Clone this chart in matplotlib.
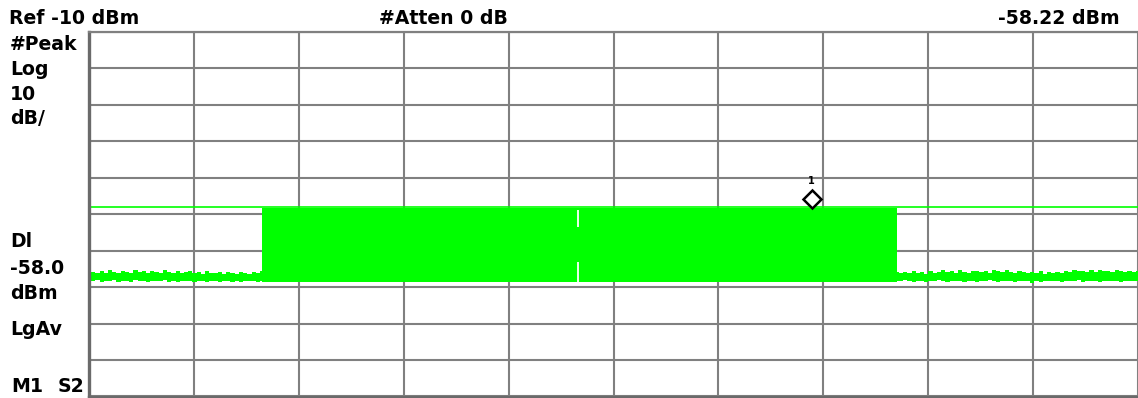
import numpy as np
import matplotlib
matplotlib.use("Agg")
import matplotlib.pyplot as plt
from matplotlib.transforms import offset_copy

W, H = 1138, 398

# screen settings (10 div x 10 div, 10 dB/div, ref -10 dBm)
ref_level = -10.0
db_per_div = 10.0
n_div = 10
display_line = -58.0
marker_x = 6.89
marker_dbm = -58.22

# noise floor left of the signal (dBm, upper / lower envelope)
left_start, left_stop = 0.0, 1.65
left_upper = [-76.6, -75.9, -76.1, -75.5, -76.0, -75.4, -75.9, -76.2, -75.5, -75.8,
              -76.0, -75.2, -75.9, -75.6, -76.1, -75.5, -75.8, -76.2, -75.4, -75.9,
              -76.0, -75.6, -76.2, -75.8, -75.5, -76.1, -75.9, -76.3, -75.7, -76.0,
              -76.2, -75.9, -76.3, -75.8, -76.0, -76.4, -75.9, -76.1, -76.3, -75.9,
              -76.1, -75.6]
left_lower = [-77.9, -78.3, -78.1, -78.5, -78.2, -78.4, -78.1, -78.6, -78.3, -78.2,
              -78.5, -78.1, -78.4, -78.3, -78.7, -78.2, -78.4, -78.3, -78.1, -78.5,
              -78.2, -78.6, -78.3, -78.4, -78.2, -78.5, -78.3, -78.2, -78.6, -78.4,
              -78.3, -78.5, -78.2, -78.4, -78.6, -78.3, -78.5, -78.2, -78.4, -78.3,
              -78.5, -78.2]

# noise floor right of the signal
right_start, right_stop = 7.70, 10.0
right_upper = [-75.9, -76.2, -75.8, -76.0, -75.7, -76.1, -75.9, -76.3, -75.6, -76.0,
               -75.8, -75.4, -75.9, -75.6, -76.0, -75.3, -75.8, -76.1, -75.7, -75.5,
               -75.9, -75.6, -76.0, -75.4, -75.7, -75.9, -75.3, -75.8, -76.1, -75.6,
               -75.9, -76.2, -75.8, -76.0, -75.7, -76.3, -75.9, -76.1, -75.8, -76.0,
               -75.6, -75.9, -75.2, -75.7, -75.5, -75.9, -75.4, -75.8, -75.3, -75.7,
               -75.5, -75.9, -75.4, -75.6, -75.8, -75.5, -75.9, -75.7]
right_lower = [-78.2, -78.4, -78.1, -78.3, -78.5, -78.2, -78.3, -78.6, -78.2, -78.4,
               -78.1, -78.3, -78.5, -78.2, -78.4, -78.3, -78.7, -78.2, -78.3, -78.5,
               -78.2, -78.4, -78.1, -78.3, -78.6, -78.2, -78.4, -78.3, -78.5, -78.2,
               -78.4, -78.3, -78.8, -78.2, -78.5, -78.3, -78.4, -78.2, -78.3, -78.5,
               -78.2, -78.4, -78.3, -78.1, -78.5, -78.3, -78.4, -78.2, -78.6, -78.3,
               -78.4, -78.2, -78.3, -78.5, -78.2, -78.4, -78.3, -78.2]

# occupied signal band
band_start, band_stop = 1.65, 7.70
band_top, band_bottom = -58.3, -78.5
notch_x = 4.66
notch_gaps = [(-58.9, -63.5), (-73.1, -78.5)]

header_texts = [("Ref -10 dBm", 9, "left"), ("#Atten 0 dB", 379, "left"),
                ("-58.22 dBm", 1120, "right")]
side_texts = [("#Peak", 50), ("Log", 75), ("10", 100), ("dB/", 124),
              ("Dl", 247), ("-58.0", 274), ("dBm", 299), ("LgAv", 335)]

green = "#00ff00"
grid_col = "#808080"

fig = plt.figure(figsize=(W / 100, H / 100), dpi=100)
ax = fig.add_axes([89 / W, 1.5 / H, 1 - 89 / W, (396.5 - 32) / H])

ybot = ref_level - db_per_div * n_div
ax.set_xlim(0, n_div)
ax.set_ylim(ybot, ref_level)
ax.set_xticks(range(n_div + 1))
ax.set_yticks(np.arange(ybot, ref_level + 1, db_per_div))
ax.tick_params(length=0, labelbottom=False, labelleft=False)
ax.set_axisbelow(True)
ax.grid(True, color=grid_col, lw=1.5)
for s in ["left", "bottom"]:
    ax.spines[s].set_color("#6a6a6a")
    ax.spines[s].set_linewidth(2.4)
ax.spines["top"].set_color(grid_col)
ax.spines["top"].set_linewidth(1.6)
ax.spines["right"].set_visible(False)

# trace
xl = np.linspace(left_start, left_stop, len(left_upper))
ax.fill_between(xl, left_lower, left_upper, step="mid", color=green, lw=0)
xr = np.linspace(right_start, right_stop, len(right_upper))
ax.fill_between(xr, right_lower, right_upper, step="mid", color=green, lw=0)
ax.fill_between([band_start, band_stop], band_bottom, band_top, color=green, lw=0)
for g0, g1 in notch_gaps:
    ax.vlines(notch_x, g1, g0, color="white", lw=1.3)

# display line
ax.axhline(display_line, color=green, lw=1.2)

# marker 1
tr = offset_copy(ax.transData, fig=fig, x=0, y=9, units="dots")
ax.plot(marker_x, marker_dbm, marker="D", ms=9, mfc="white", mec="black",
        mew=1.8, transform=tr, clip_on=False)
tr2 = offset_copy(ax.transData, fig=fig, x=0, y=27, units="dots")
ax.text(marker_x, marker_dbm, "1", transform=tr2, ha="center", va="center",
        fontsize=7, fontweight="bold", family="DejaVu Sans")

# annotation texts
fp = dict(fontsize=13.6, fontweight="bold", family="DejaVu Sans", va="baseline")
for t, x, ha in header_texts:
    fig.text(x / W, 1 - 24 / H, t, ha=ha, **fp)
for t, y in side_texts:
    fig.text(10 / W, 1 - y / H, t, ha="left", **fp)
fig.text(11 / W, 1 - 392 / H, "M1", ha="left", **fp)
fig.text(58 / W, 1 - 392 / H, "S2", ha="left", **fp)

fig.savefig("out.png", dpi=100)
